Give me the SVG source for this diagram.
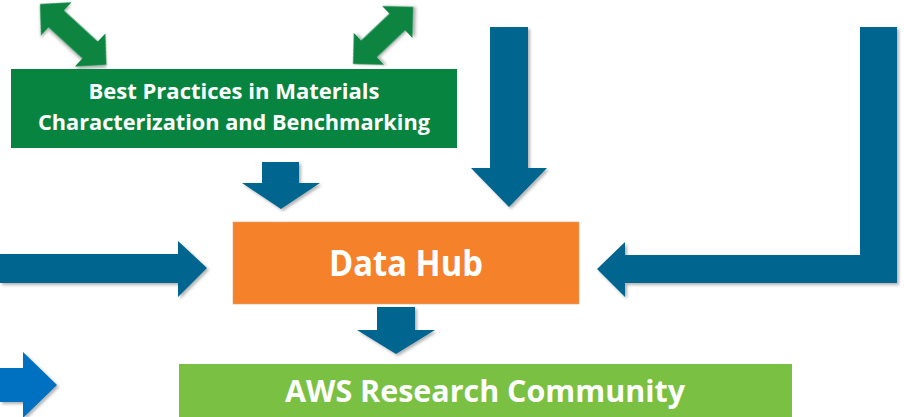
<svg xmlns="http://www.w3.org/2000/svg" width="904" height="417" viewBox="0 0 904 417">
  <defs>
    <filter id="shadow" x="-20%" y="-20%" width="140%" height="140%">
      <feDropShadow dx="2" dy="2" stdDeviation="1.8" flood-color="#000" flood-opacity="0.3"/>
    </filter>
  </defs>
  <style>
    .blue { fill: #03668F; filter: url(#shadow); }
    .bright { fill: #0070C0; filter: url(#shadow); }
    .garrow { fill: #07843F; filter: url(#shadow); }
    .label { font-family: "Open Sans", "Liberation Sans", sans-serif; font-weight: bold; fill: #FFFFFF; text-anchor: middle; }
  </style>
  <rect width="904" height="417" fill="#FFFFFF"/>

  <g id="connectors">
    <!-- green double arrows -->
    <polygon class="garrow" transform="translate(40,4) rotate(42.5)" points="0,0 22,-22.5 22,-11.5 68,-11.5 68,-22.5 90,0 68,22.5 68,11.5 22,11.5 22,22.5"/>
    <polygon class="garrow" transform="translate(353,64) rotate(-43.5)" points="0,0 22,-22 22,-11.5 61,-11.5 61,-22 83,0 61,22 61,11.5 22,11.5 22,22"/>
    <!-- big down arrow -->
    <polygon class="blue" points="490,27 528,27 528,168 547,168 509,207 471,168 490,168"/>
    <!-- right L arrow -->
    <polygon class="blue" points="860,27 897,27 897,283 625,283 625,297 597,269 625,242 625,255 860,255"/>
    <!-- left arrow into Data Hub -->
    <polygon class="blue" points="0,254 178,254 178,241 207,268 178,297 178,283 0,283"/>
    <!-- small down arrow from best practices -->
    <polygon class="blue" points="262,162 299,162 299,183 320,183 281,209 242,183 262,183"/>
    <!-- down arrow from Data Hub -->
    <polygon class="blue" points="377,307 415,307 415,330 435,330 396,354 357,330 377,330"/>
    <!-- bright blue arrow bottom left -->
    <polygon class="bright" points="0,368 23,368 23,352 57,385 23,418 23,402 0,402"/>
  </g>

  <g id="best-practices">
    <rect x="11" y="69" width="446" height="79" fill="#07843F"/>
    <text class="label" x="234" y="99" font-size="22" textLength="291" lengthAdjust="spacingAndGlyphs">Best Practices in Materials</text>
    <text class="label" x="234" y="130" font-size="22" textLength="392" lengthAdjust="spacingAndGlyphs">Characterization and Benchmarking</text>
  </g>

  <g id="data-hub">
    <rect x="233" y="222" width="346" height="82" fill="#F5822A" stroke="#D9A27A" stroke-width="0.6"/>
    <text class="label" x="406" y="276" font-size="35" textLength="154" lengthAdjust="spacingAndGlyphs">Data Hub</text>
  </g>

  <g id="aws-research-community">
    <rect x="179" y="364" width="613" height="60" fill="#7AC143"/>
    <text class="label" x="485" y="402" font-size="31" textLength="400" lengthAdjust="spacingAndGlyphs">AWS Research Community</text>
  </g>
</svg>
